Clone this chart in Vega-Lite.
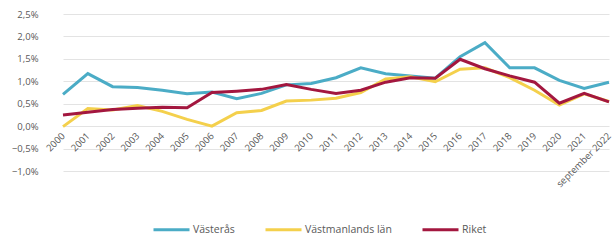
{
  "$schema": "https://vega.github.io/schema/vega-lite/v6.json",
  "width": 566,
  "height": 157,
  "autosize": {"type": "none"},
  "padding": {"left": 48, "top": 14, "right": 0, "bottom": 69},
  "background": "white",
  "config": {
    "view": {"stroke": null},
    "font": "Open Sans",
    "axis": {"labelColor": "#595959", "labelFontSize": 9.5, "labelFont": "Open Sans"},
    "legend": {"labelColor": "#595959", "labelFontSize": 10.5, "labelFont": "Open Sans"}
  },
  "data": {
    "values": [
      {"year": "2000", "series": "Västerås", "value": 0.0071},
      {"year": "2001", "series": "Västerås", "value": 0.0117},
      {"year": "2002", "series": "Västerås", "value": 0.0088},
      {"year": "2003", "series": "Västerås", "value": 0.0086},
      {"year": "2004", "series": "Västerås", "value": 0.0080},
      {"year": "2005", "series": "Västerås", "value": 0.0072},
      {"year": "2006", "series": "Västerås", "value": 0.0076},
      {"year": "2007", "series": "Västerås", "value": 0.0061},
      {"year": "2008", "series": "Västerås", "value": 0.0073},
      {"year": "2009", "series": "Västerås", "value": 0.0092},
      {"year": "2010", "series": "Västerås", "value": 0.0095},
      {"year": "2011", "series": "Västerås", "value": 0.0108},
      {"year": "2012", "series": "Västerås", "value": 0.0130},
      {"year": "2013", "series": "Västerås", "value": 0.0117},
      {"year": "2014", "series": "Västerås", "value": 0.0112},
      {"year": "2015", "series": "Västerås", "value": 0.0107},
      {"year": "2016", "series": "Västerås", "value": 0.0155},
      {"year": "2017", "series": "Västerås", "value": 0.0186},
      {"year": "2018", "series": "Västerås", "value": 0.0130},
      {"year": "2019", "series": "Västerås", "value": 0.0130},
      {"year": "2020", "series": "Västerås", "value": 0.0102},
      {"year": "2021", "series": "Västerås", "value": 0.0084},
      {"year": "september 2022", "series": "Västerås", "value": 0.0098},
      {"year": "2000", "series": "Västmanlands län", "value": -0.0001},
      {"year": "2001", "series": "Västmanlands län", "value": 0.0039},
      {"year": "2002", "series": "Västmanlands län", "value": 0.0036},
      {"year": "2003", "series": "Västmanlands län", "value": 0.0046},
      {"year": "2004", "series": "Västmanlands län", "value": 0.0033},
      {"year": "2005", "series": "Västmanlands län", "value": 0.0015},
      {"year": "2006", "series": "Västmanlands län", "value": 0.0000},
      {"year": "2007", "series": "Västmanlands län", "value": 0.0030},
      {"year": "2008", "series": "Västmanlands län", "value": 0.0035},
      {"year": "2009", "series": "Västmanlands län", "value": 0.0056},
      {"year": "2010", "series": "Västmanlands län", "value": 0.0058},
      {"year": "2011", "series": "Västmanlands län", "value": 0.0062},
      {"year": "2012", "series": "Västmanlands län", "value": 0.0075},
      {"year": "2013", "series": "Västmanlands län", "value": 0.0105},
      {"year": "2014", "series": "Västmanlands län", "value": 0.0110},
      {"year": "2015", "series": "Västmanlands län", "value": 0.0099},
      {"year": "2016", "series": "Västmanlands län", "value": 0.0127},
      {"year": "2017", "series": "Västmanlands län", "value": 0.0130},
      {"year": "2018", "series": "Västmanlands län", "value": 0.0108},
      {"year": "2019", "series": "Västmanlands län", "value": 0.0080},
      {"year": "2020", "series": "Västmanlands län", "value": 0.0047},
      {"year": "2021", "series": "Västmanlands län", "value": 0.0072},
      {"year": "september 2022", "series": "Västmanlands län", "value": 0.0055},
      {"year": "2000", "series": "Riket", "value": 0.0025},
      {"year": "2001", "series": "Riket", "value": 0.0031},
      {"year": "2002", "series": "Riket", "value": 0.0037},
      {"year": "2003", "series": "Riket", "value": 0.0040},
      {"year": "2004", "series": "Riket", "value": 0.0042},
      {"year": "2005", "series": "Riket", "value": 0.0041},
      {"year": "2006", "series": "Riket", "value": 0.0075},
      {"year": "2007", "series": "Riket", "value": 0.0078},
      {"year": "2008", "series": "Riket", "value": 0.0082},
      {"year": "2009", "series": "Riket", "value": 0.0093},
      {"year": "2010", "series": "Riket", "value": 0.0082},
      {"year": "2011", "series": "Riket", "value": 0.0073},
      {"year": "2012", "series": "Riket", "value": 0.0080},
      {"year": "2013", "series": "Riket", "value": 0.0098},
      {"year": "2014", "series": "Riket", "value": 0.0108},
      {"year": "2015", "series": "Riket", "value": 0.0107},
      {"year": "2016", "series": "Riket", "value": 0.0149},
      {"year": "2017", "series": "Riket", "value": 0.0128},
      {"year": "2018", "series": "Riket", "value": 0.0112},
      {"year": "2019", "series": "Riket", "value": 0.0098},
      {"year": "2020", "series": "Riket", "value": 0.0051},
      {"year": "2021", "series": "Riket", "value": 0.0073},
      {"year": "september 2022", "series": "Riket", "value": 0.0054}
    ]
  },
  "mark": {"type": "line", "strokeWidth": 3, "strokeJoin": "miter"},
  "encoding": {
    "x": {
      "field": "year",
      "type": "ordinal",
      "sort": null,
      "scale": {"type": "point", "range": [15, 561], "padding": 0},
      "axis": {
        "title": null,
        "offset": -45,
        "domain": false,
        "ticks": false,
        "grid": false,
        "labelAngle": -45,
        "labelAlign": "right",
        "labelBaseline": "middle",
        "labelPadding": 8,
        "labelOverlap": false,
        "labelFlush": false
      }
    },
    "y": {
      "field": "value",
      "type": "quantitative",
      "scale": {"domain": [-0.01, 0.025], "nice": false, "zero": false},
      "axis": {
        "title": null,
        "values": [-0.01, -0.005, 0, 0.005, 0.01, 0.015, 0.02, 0.025],
        "labelExpr": "replace(format(datum.value, '.1%'), '.', ',')",
        "domain": false,
        "ticks": false,
        "grid": true,
        "gridColor": "#E3E3E3",
        "gridWidth": 1,
        "labelPadding": 10
      }
    },
    "color": {
      "field": "series",
      "type": "nominal",
      "scale": {
        "domain": ["Västerås", "Västmanlands län", "Riket"],
        "range": ["#4BACC6", "#F4D04C", "#A3173F"]
      },
      "legend": {
        "title": null,
        "orient": "none",
        "direction": "horizontal",
        "legendX": 104,
        "legendY": 196,
        "symbolType": "stroke",
        "symbolSize": 1296,
        "symbolStrokeWidth": 3,
        "labelOffset": 2,
        "columnPadding": 24
      }
    }
  }
}
